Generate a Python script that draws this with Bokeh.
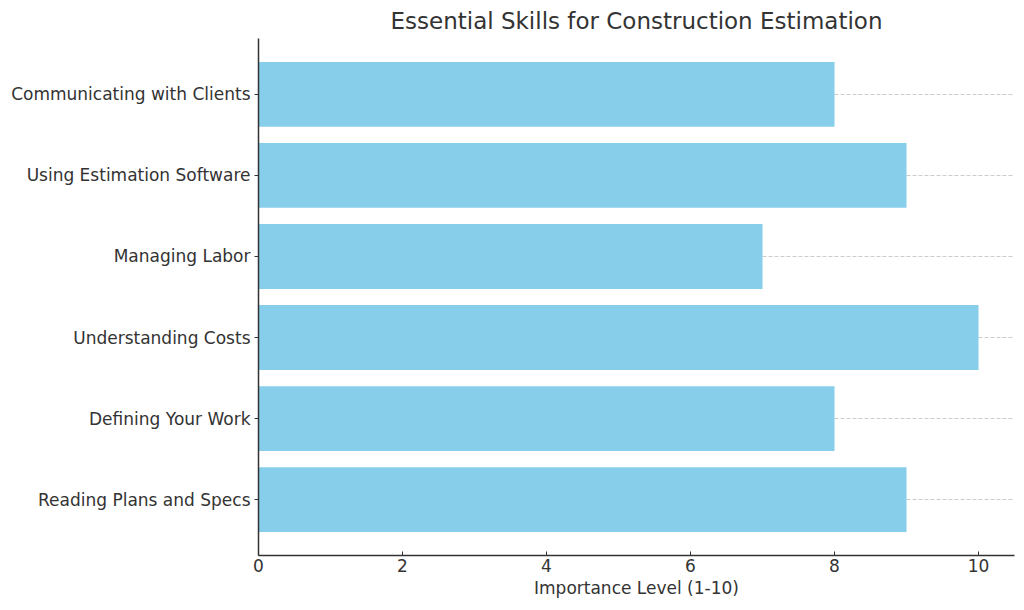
from bokeh.plotting import figure
from bokeh.models import Range1d, FixedTicker, ColumnDataSource
from bokeh.embed import file_html
from bokeh.resources import INLINE

skills = ["Reading Plans and Specs", "Defining Your Work", "Understanding Costs",
          "Managing Labor", "Using Estimation Software", "Communicating with Clients"]
importance = [9, 8, 10, 7, 9, 8]
x_ticks = [0, 2, 4, 6, 8, 10]

pos = list(range(len(skills)))
src = ColumnDataSource(dict(y=pos, right=importance))

p = figure(width=1024, height=610, output_backend="svg", toolbar_location=None,
           x_range=Range1d(0, 10.5), y_range=Range1d(-0.69, len(skills) - 1 + 0.69),
           min_border_left=258, min_border_right=10, min_border_top=37, min_border_bottom=55)

p.hbar(y="y", right="right", left=0, height=0.8, source=src,
       fill_color="#87CEEB", line_color=None)

p.title.text = "Essential Skills for Construction Estimation"
p.title.align = "center"
p.title.text_font = "DejaVu Sans"
p.title.text_font_size = "23px"
p.title.text_font_style = "normal"
p.title.text_color = "#333333"

p.outline_line_color = None
p.xgrid.grid_line_color = None
p.ygrid.grid_line_color = "#cccccc"
p.ygrid.grid_line_dash = "4 2"
p.ygrid.grid_line_width = 1
p.ygrid.ticker = FixedTicker(ticks=pos)

p.yaxis.ticker = FixedTicker(ticks=pos)
p.yaxis.major_label_overrides = {i: s for i, s in enumerate(skills)}
p.xaxis.ticker = FixedTicker(ticks=x_ticks)
p.xaxis.axis_label = "Importance Level (1-10)"

for ax in (p.xaxis, p.yaxis):
    ax.axis_line_color = "#333333"
    ax.axis_line_width = 1.5
    ax.major_tick_line_color = "#333333"
    ax.minor_tick_line_color = None
    ax.major_label_text_font = "DejaVu Sans"
    ax.major_label_text_font_size = "17px"
    ax.major_label_text_color = "#333333"
    ax.axis_label_text_font = "DejaVu Sans"
    ax.axis_label_text_font_size = "17px"
    ax.axis_label_text_font_style = "normal"
    ax.axis_label_text_color = "#333333"

p.xaxis.major_tick_in = 4
p.xaxis.major_tick_out = 0
p.xaxis.major_label_standoff = 3
p.xaxis.axis_label_standoff = 3
p.yaxis.major_tick_in = 0
p.yaxis.major_tick_out = 4
p.yaxis.major_label_standoff = 4

open("out.html", "w").write(file_html(p, INLINE))
